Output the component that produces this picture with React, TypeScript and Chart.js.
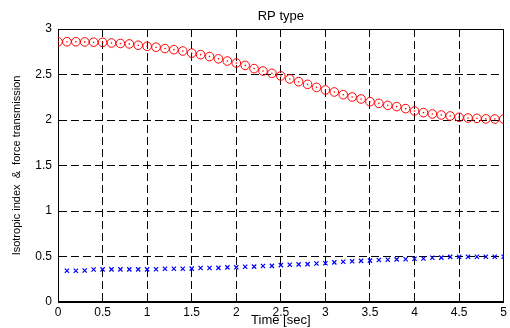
import React, { useEffect, useRef } from "react";
import { Chart, registerables } from "chart.js";

Chart.register(...registerables);

const chartTitle = "RP type";
const xTitle = "Time [sec]";
const yTitle = "Isotropic index  &  force transmission";

const xTickMin = 0;
const xTickMax = 5;
const xTickStep = 0.5;
const yTickMin = 0;
const yTickMax = 3;
const yTickStep = 0.5;

const times = [
  0, 0.1, 0.2, 0.3, 0.4, 0.5, 0.6, 0.7, 0.8, 0.9,
  1.0, 1.1, 1.2, 1.3, 1.4, 1.5, 1.6, 1.7, 1.8, 1.9,
  2.0, 2.1, 2.2, 2.3, 2.4, 2.5, 2.6, 2.7, 2.8, 2.9,
  3.0, 3.1, 3.2, 3.3, 3.4, 3.5, 3.6, 3.7, 3.8, 3.9,
  4.0, 4.1, 4.2, 4.3, 4.4, 4.5, 4.6, 4.7, 4.8, 4.9,
  5.0,
];

const forceTransmission = [
  2.86, 2.86, 2.86, 2.858, 2.855, 2.853, 2.846, 2.841, 2.836, 2.822,
  2.81, 2.8, 2.785, 2.773, 2.758, 2.735, 2.718, 2.697, 2.672, 2.648,
  2.626, 2.6, 2.565, 2.538, 2.513, 2.484, 2.451, 2.421, 2.392, 2.359,
  2.33, 2.308, 2.278, 2.253, 2.231, 2.201, 2.183, 2.161, 2.147, 2.125,
  2.099, 2.081, 2.066, 2.055, 2.044, 2.03, 2.022, 2.018, 2.012, 2.011,
  2.01,
];

const isotropicTimes = times.slice(1);
const isotropicIndex = [
  0.344, 0.344, 0.346, 0.357, 0.359, 0.359, 0.359, 0.359, 0.359, 0.359,
  0.36, 0.365, 0.366, 0.366, 0.367, 0.373, 0.374, 0.375, 0.38, 0.381,
  0.387, 0.389, 0.395, 0.397, 0.405, 0.41, 0.413, 0.416, 0.423, 0.426,
  0.435, 0.443, 0.447, 0.452, 0.455, 0.461, 0.464, 0.468, 0.47, 0.475,
  0.478, 0.486, 0.488, 0.496, 0.498, 0.498, 0.498, 0.498, 0.498, 0.498,
];

const FONT = "'Liberation Sans', Arial, Helvetica, sans-serif";

const fmtTick = (v: any) => String(Number(v));

export default function App() {
  const ref = useRef<HTMLCanvasElement>(null);

  useEffect(() => {
    const canvas = ref.current;
    if (!canvas) return;

    const framePlugin = {
      id: "frame",
      beforeDatasetsDraw(chart: any) {
        const { ctx, chartArea: a } = chart;
        ctx.save();
        ctx.strokeStyle = "#000";
        ctx.lineWidth = 1;
        ctx.setLineDash([]);
        const l = Math.round(a.left) + 0.5;
        const t = Math.round(a.top) + 0.5;
        const r = Math.round(a.right) - 0.5;
        const b = Math.round(a.bottom) - 0.5;
        ctx.strokeRect(l, t, r - l, b - t);
        ctx.restore();
      },
      afterDraw(chart: any) {
        const { ctx, chartArea: a } = chart;
        ctx.save();
        ctx.fillStyle = "#000";
        ctx.font = `13px ${FONT}`;
        ctx.textAlign = "center";
        ctx.textBaseline = "middle";
        ctx.fillText(chartTitle, (a.left + a.right) / 2, 16);
        ctx.restore();
      },
    };

    const chart = new Chart(canvas, {
      type: "scatter",
      data: {
        datasets: [
          {
            label: "force transmission",
            data: times.map((t, i) => ({ x: t, y: forceTransmission[i] })),
            showLine: false,
            pointStyle: "circle",
            pointRadius: 4.3,
            pointBorderWidth: 1,
            pointBorderColor: "#ff0000",
            pointBackgroundColor: "rgba(0,0,0,0)",
          },
          {
            label: "force transmission centre",
            data: times.map((t, i) => ({ x: t, y: forceTransmission[i] })),
            showLine: false,
            pointStyle: "circle",
            pointRadius: 0.8,
            pointBorderWidth: 0,
            pointBackgroundColor: "#ff0000",
          },
          {
            label: "isotropic index",
            data: isotropicTimes.map((t, i) => ({ x: t, y: isotropicIndex[i] })),
            showLine: false,
            pointStyle: "crossRot",
            pointRadius: 3,
            pointBorderWidth: 1.2,
            pointBorderColor: "#0000ff",
          },
        ],
      },
      options: {
        responsive: false,
        animation: false,
        layout: { padding: { top: 29, right: 5, left: 0, bottom: 0 } },
        plugins: {
          legend: { display: false },
          title: { display: false },
          tooltip: { enabled: false },
        },
        scales: {
          x: {
            type: "linear",
            min: xTickMin,
            max: xTickMax,
            ticks: {
              stepSize: xTickStep,
              color: "#000",
              font: { family: FONT, size: 12 },
              padding: 3,
              maxRotation: 0,
              autoSkip: false,
              callback: fmtTick,
            },
            grid: { color: "#000", lineWidth: 1, drawTicks: false },
            border: { display: true, color: "#000", dash: [8, 4] },
            title: {
              display: true,
              text: xTitle,
              color: "#000",
              font: { family: FONT, size: 13 },
              padding: 0,
            },
            afterFit(s: any) {
              s.height = 26;
            },
          },
          y: {
            type: "linear",
            min: yTickMin,
            max: yTickMax,
            ticks: {
              stepSize: yTickStep,
              color: "#000",
              font: { family: FONT, size: 12 },
              padding: 6,
              callback: fmtTick,
            },
            grid: { color: "#000", lineWidth: 1, drawTicks: false },
            border: { display: true, color: "#000", dash: [8, 4] },
            title: {
              display: true,
              text: yTitle,
              color: "#000",
              font: { family: FONT, size: 11 },
              padding: { top: 10, bottom: 0 },
            },
            afterFit(s: any) {
              s.width = 58;
            },
          },
        },
      } as any,
      plugins: [framePlugin],
    });

    return () => chart.destroy();
  }, []);

  return (
    <div style={{ position: "absolute", left: 0, top: 0, width: 510, height: 328, background: "#fff" }}>
      <canvas ref={ref} width={510} height={328} style={{ display: "block", width: 510, height: 328 }} />
    </div>
  );
}
